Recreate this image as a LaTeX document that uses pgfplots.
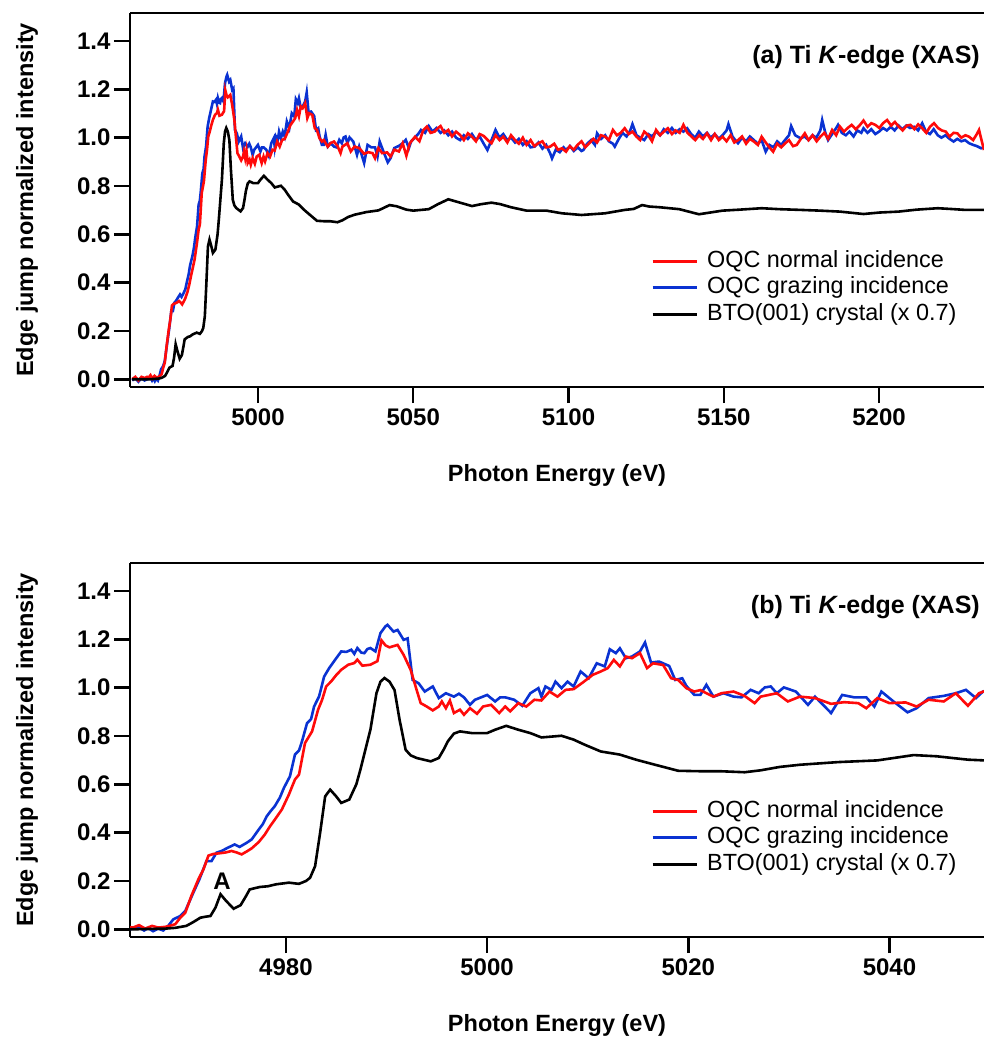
\documentclass[border=0pt]{standalone}
\usepackage{fontspec}
\setmainfont{Liberation Sans}
\usepackage{pgfplots}
\usepackage{pgfplotstable}
\pgfplotsset{compat=1.18}
\definecolor{oqcred}{RGB}{255,10,10}
\definecolor{oqcblue}{RGB}{10,50,210}

\pgfplotstableread{
E v
4959.5 0.000
4960.5 0.010
4961.5 -0.005
4962.5 0.010
4963.5 0.005
4964.3 0.010
4964.8 0.007
4965.4 0.017
4966.0 0.003
4966.7 0.014
4967.3 0.007
4968.0 0.010
4968.5 0.015
4969.0 0.021
4969.5 0.048
4970.0 0.069
4970.6 0.138
4971.3 0.207
4971.8 0.248
4972.3 0.305
4972.8 0.312
4973.3 0.314
4974.0 0.318
4974.6 0.324
4975.1 0.318
4975.6 0.310
4976.1 0.322
4976.6 0.335
4977.3 0.361
4977.9 0.392
4978.4 0.425
4978.9 0.454
4979.6 0.496
4980.3 0.558
4980.9 0.620
4981.3 0.640
4981.9 0.771
4982.6 0.819
4983.2 0.909
4983.6 0.950
4984.0 1.005
4984.5 1.026
4985.0 1.052
4985.5 1.074
4986.2 1.095
4986.8 1.102
4987.1 1.116
4987.6 1.091
4988.0 1.093
4988.4 1.095
4989.1 1.110
4989.5 1.196
4989.9 1.175
4990.3 1.167
4991.1 1.177
4991.7 1.136
4992.4 1.074
4993.0 0.990
4993.4 0.936
4994.0 0.922
4994.6 0.906
4995.2 0.922
4995.5 0.943
4995.9 0.915
4996.3 0.947
4996.7 0.895
4997.3 0.909
4997.7 0.888
4998.3 0.915
4999.0 0.892
4999.6 0.922
5000.4 0.929
5001.2 0.895
5001.8 0.922
5002.3 0.902
5003.1 0.936
5003.9 0.922
5004.7 0.950
5005.4 0.947
5006.2 0.984
5007.0 0.963
5007.8 0.991
5008.6 0.994
5009.5 1.021
5010.5 1.053
5011.3 1.067
5012.0 1.081
5012.6 1.115
5013.2 1.088
5013.8 1.129
5014.4 1.122
5015.2 1.143
5015.9 1.081
5016.5 1.101
5017.5 1.094
5018.3 1.039
5019.0 1.032
5019.8 0.998
5020.6 0.984
5021.2 0.990
5021.8 0.977
5022.5 0.963
5023.3 0.977
5024.5 0.984
5025.6 0.966
5026.6 0.936
5027.2 0.963
5028.0 0.970
5028.8 0.977
5029.9 0.943
5031.1 0.963
5032.6 0.957
5034.2 0.933
5035.5 0.940
5036.9 0.936
5037.7 0.915
5038.8 0.957
5040.0 0.936
5041.6 0.939
5042.7 0.922
5043.9 0.950
5045.4 0.943
5046.6 0.977
5047.8 0.925
5048.9 0.977
5050.6 1.004
5052.0 0.985
5053.2 1.030
5054.4 1.046
5055.6 1.020
5056.9 1.025
5058.0 1.040
5058.8 1.048
5060.0 1.020
5061.3 1.032
5062.5 1.005
5063.8 1.025
5065.1 1.011
5066.3 0.990
5067.6 1.018
5068.9 1.004
5070.2 0.985
5071.4 1.015
5072.7 1.007
5074.0 0.990
5075.2 0.977
5076.5 1.010
5077.8 0.990
5079.0 1.004
5080.3 0.980
5081.5 1.010
5082.8 0.990
5084.0 0.975
5085.3 1.000
5086.5 0.970
5087.8 0.990
5089.0 0.965
5090.3 0.977
5091.6 0.985
5092.8 0.960
5094.1 0.963
5095.4 0.975
5096.6 0.950
5097.9 0.956
5099.2 0.942
5100.4 0.965
5101.7 0.950
5102.9 0.970
5104.2 0.985
5105.4 0.960
5106.7 0.977
5108.0 0.995
5109.2 0.980
5110.5 1.010
5111.8 1.004
5113.0 0.990
5114.3 1.032
5115.6 1.010
5116.8 1.020
5118.1 1.039
5119.4 1.015
5120.6 1.025
5121.9 1.004
5123.1 0.990
5124.4 1.025
5125.7 1.010
5126.9 0.985
5128.2 1.032
5129.5 1.010
5130.7 1.025
5132.0 1.039
5133.3 1.015
5134.5 1.030
5135.8 1.020
5137.0 1.053
5138.3 1.020
5139.6 1.005
5140.8 0.990
5142.1 1.010
5143.3 0.995
5144.6 1.018
5145.9 0.990
5147.1 1.015
5148.4 0.990
5149.6 1.004
5150.9 0.985
5152.2 1.010
5153.4 0.980
5154.6 0.990
5155.9 1.005
5157.2 0.975
5158.4 0.995
5159.7 0.984
5161.0 0.970
5162.2 1.004
5163.5 0.980
5164.7 0.960
5165.9 0.942
5167.2 0.975
5168.5 0.960
5169.8 0.977
5171.0 0.990
5172.3 0.965
5173.5 0.970
5174.8 0.995
5176.1 1.018
5177.3 0.990
5178.6 1.010
5179.9 0.985
5181.1 1.004
5182.4 1.020
5183.6 0.995
5184.9 1.032
5186.2 1.010
5187.4 1.046
5188.7 1.025
5189.9 1.040
5191.2 1.053
5192.5 1.035
5193.7 1.050
5195.0 1.071
5196.3 1.045
5197.5 1.060
5198.8 1.053
5200.1 1.040
5201.3 1.060
5202.6 1.073
5203.9 1.050
5205.1 1.065
5206.3 1.046
5207.6 1.030
5208.9 1.050
5210.1 1.053
5211.4 1.035
5212.6 1.055
5213.9 1.039
5215.2 1.020
5216.4 1.045
5217.7 1.060
5219.0 1.040
5220.2 1.030
5221.5 1.025
5222.7 1.004
5224.0 1.020
5225.2 1.018
5226.5 1.000
5227.8 1.010
5229.0 1.004
5230.3 0.990
5231.5 1.015
5232.2 1.032
5233.0 0.990
5233.8 0.949
}\redtab

\pgfplotstableread{
E v
4959.5 -0.005
4960.5 0.005
4961.5 -0.010
4962.5 0.005
4963.5 -0.005
4964.3 0.000
4964.8 0.002
4965.3 0.010
4965.9 -0.005
4966.3 0.005
4966.8 -0.008
4967.3 0.003
4967.8 -0.005
4968.3 0.014
4968.8 0.041
4969.5 0.055
4970.0 0.076
4970.8 0.152
4971.4 0.207
4972.1 0.282
4972.6 0.282
4973.1 0.317
4973.6 0.324
4974.2 0.337
4974.9 0.351
4975.4 0.341
4976.1 0.358
4976.6 0.372
4977.3 0.413
4977.7 0.435
4978.1 0.468
4978.5 0.490
4978.9 0.510
4979.4 0.545
4979.8 0.585
4980.4 0.633
4980.9 0.723
4981.3 0.740
4981.6 0.778
4982.1 0.853
4982.5 0.870
4982.8 0.922
4983.3 0.964
4983.8 1.046
4984.3 1.081
4984.9 1.116
4985.5 1.150
4986.0 1.148
4986.5 1.157
4986.8 1.140
4987.1 1.164
4987.5 1.145
4987.8 1.143
4988.1 1.160
4988.4 1.164
4988.9 1.150
4989.4 1.226
4989.9 1.254
4990.1 1.260
4990.7 1.232
4991.1 1.239
4991.7 1.198
4992.1 1.204
4992.6 1.032
4993.2 1.018
4993.8 0.984
4994.6 1.005
4995.2 0.957
4995.9 0.977
4996.7 0.963
4997.2 0.975
4997.7 0.960
4998.3 0.929
4998.8 0.950
4999.4 0.960
5000.0 0.970
5000.8 0.943
5001.3 0.960
5001.8 0.960
5002.7 0.950
5003.5 0.925
5004.3 0.977
5005.1 0.998
5005.4 0.963
5005.8 1.005
5006.4 0.991
5006.8 1.025
5007.4 0.998
5008.0 1.025
5008.6 1.005
5009.3 1.067
5010.1 1.039
5010.9 1.101
5011.7 1.088
5012.2 1.159
5012.8 1.143
5013.2 1.163
5013.8 1.122
5014.4 1.129
5015.2 1.150
5015.7 1.187
5016.3 1.104
5017.1 1.108
5018.1 1.090
5018.7 1.032
5019.4 1.039
5019.8 1.008
5020.6 0.970
5021.2 0.970
5021.8 1.012
5022.5 0.963
5023.5 0.977
5024.5 0.963
5025.3 0.960
5026.2 0.991
5027.0 0.977
5027.6 1.001
5028.2 1.005
5028.8 0.977
5029.5 1.001
5030.7 0.984
5031.9 0.929
5032.6 0.963
5034.2 0.895
5035.3 0.970
5036.5 0.960
5037.7 0.960
5038.5 0.922
5039.2 0.984
5040.4 0.943
5041.8 0.898
5042.7 0.915
5043.9 0.957
5045.4 0.966
5046.6 0.977
5047.6 0.991
5048.6 0.957
5049.3 0.984
5050.5 1.000
5051.6 1.015
5052.5 1.032
5053.8 1.020
5055.0 1.048
5056.2 1.025
5057.5 1.040
5058.8 1.020
5060.0 1.030
5061.3 1.010
5062.5 1.025
5063.8 1.000
5065.1 0.990
5066.3 1.010
5067.6 0.995
5068.9 1.015
5070.2 0.990
5071.4 1.005
5072.7 0.975
5073.9 0.949
5075.2 0.990
5076.5 1.032
5077.8 1.000
5079.0 1.015
5080.3 0.990
5081.5 1.000
5082.8 0.980
5084.0 0.995
5085.3 0.970
5086.5 0.985
5087.8 0.960
5089.1 0.963
5090.3 0.980
5091.6 0.955
5092.8 0.970
5094.1 0.935
5094.7 0.914
5095.9 0.950
5097.2 0.940
5098.4 0.960
5099.2 0.949
5100.5 0.965
5101.7 0.945
5103.0 0.960
5104.2 0.945
5104.8 0.949
5106.0 0.975
5107.3 0.990
5108.5 0.970
5109.2 1.018
5110.5 0.995
5111.8 1.010
5113.0 0.985
5114.3 0.975
5114.9 0.963
5116.2 0.995
5117.4 1.020
5118.7 1.005
5119.9 1.030
5120.6 1.056
5121.9 1.010
5123.1 1.000
5124.4 0.990
5125.7 1.015
5126.9 1.005
5128.2 1.025
5129.5 1.010
5130.7 1.035
5132.0 1.020
5133.3 1.040
5134.5 1.020
5135.8 1.035
5137.0 1.025
5138.2 1.039
5139.5 1.015
5140.8 1.000
5142.0 1.025
5143.3 1.005
5144.6 1.020
5145.8 1.000
5147.1 1.015
5148.4 0.995
5149.6 1.010
5150.9 1.030
5151.5 1.056
5152.8 1.005
5154.0 0.985
5154.6 0.977
5155.9 1.000
5157.2 0.985
5158.4 1.005
5159.7 0.990
5161.0 0.975
5162.2 0.990
5163.5 0.942
5164.7 0.970
5166.0 0.960
5167.2 0.985
5168.5 0.970
5169.7 0.990
5171.0 1.010
5171.7 1.048
5173.0 1.010
5174.8 0.997
5176.0 1.005
5177.3 0.990
5178.6 1.010
5179.8 1.000
5181.1 1.030
5181.7 1.073
5182.7 1.020
5183.6 0.990
5184.9 1.015
5186.2 1.040
5186.8 1.053
5188.0 1.020
5189.3 1.010
5190.5 1.025
5191.8 1.005
5193.0 1.030
5194.3 1.020
5195.0 1.039
5196.3 1.020
5197.5 1.035
5198.8 1.015
5200.0 1.025
5201.3 1.040
5202.5 1.030
5203.8 1.045
5205.0 1.030
5206.3 1.050
5207.5 1.035
5208.8 1.050
5210.0 1.040
5211.3 1.045
5212.6 1.030
5213.9 1.060
5215.1 1.025
5216.4 1.015
5217.6 1.035
5218.9 1.010
5220.1 1.000
5221.4 1.010
5222.7 0.995
5224.0 0.984
5225.2 0.995
5226.5 0.985
5227.7 0.990
5229.0 0.977
5230.3 0.970
5231.5 0.965
5232.9 0.956
5233.8 0.960
}\bluetab

\pgfplotstableread{
E v
4959.5 0.000
4962.0 0.000
4965.0 0.000
4968.1 0.003
4969.0 0.006
4970.1 0.014
4970.8 0.030
4971.5 0.048
4972.0 0.052
4972.5 0.055
4973.0 0.090
4973.5 0.145
4974.0 0.120
4974.8 0.085
4975.5 0.100
4976.0 0.135
4976.4 0.165
4977.4 0.175
4978.2 0.178
4979.0 0.186
4980.3 0.193
4981.3 0.188
4982.0 0.200
4982.4 0.213
4982.9 0.261
4983.4 0.399
4983.9 0.550
4984.4 0.578
4985.0 0.550
4985.5 0.523
4986.3 0.537
4987.0 0.600
4987.4 0.660
4988.0 0.760
4988.4 0.826
4989.0 0.977
4989.4 1.025
4989.8 1.040
4990.3 1.025
4990.8 0.990
4991.3 0.867
4991.9 0.743
4992.4 0.720
4993.0 0.709
4994.4 0.695
4995.2 0.709
4995.7 0.745
4996.1 0.778
4996.7 0.810
4997.3 0.819
4998.5 0.812
5000.0 0.812
5000.8 0.826
5001.9 0.842
5003.1 0.826
5004.3 0.812
5005.4 0.794
5007.4 0.801
5008.6 0.785
5009.7 0.764
5011.3 0.736
5013.2 0.723
5014.8 0.702
5016.7 0.681
5019.0 0.656
5021.4 0.654
5023.3 0.654
5025.6 0.650
5027.2 0.658
5029.1 0.672
5031.1 0.681
5034.9 0.692
5038.8 0.699
5042.4 0.721
5044.7 0.716
5047.8 0.702
5050.0 0.698
5055.0 0.704
5058.0 0.725
5061.3 0.745
5064.0 0.735
5068.9 0.717
5072.0 0.725
5075.2 0.731
5078.0 0.725
5081.5 0.712
5086.5 0.698
5092.9 0.698
5097.9 0.687
5104.2 0.680
5111.8 0.687
5118.1 0.701
5121.0 0.705
5123.7 0.721
5126.0 0.715
5129.4 0.712
5135.7 0.704
5142.0 0.683
5149.6 0.698
5155.0 0.702
5162.2 0.708
5168.0 0.704
5174.8 0.701
5181.0 0.698
5187.4 0.694
5195.0 0.684
5200.0 0.690
5206.3 0.694
5212.0 0.702
5218.9 0.708
5223.0 0.705
5227.8 0.701
5233.8 0.701
}\btotab

\pgfplotsset{
  xasaxis/.style={
    scale only axis, width=854pt, height=374pt,
    ymin=-0.032, ymax=1.516,
    axis x line*=box, axis y line*=left,
    axis line style={line width=2.5pt, black},
    tick align=outside, major tick length=16pt,
    every tick/.style={line width=2.5pt, black},
    xtick pos=left, ytick pos=left,
    ytick={0,0.2,0.4,0.6,0.8,1.0,1.2,1.4},
    y tick label style={/pgf/number format/fixed, /pgf/number format/fixed zerofill, /pgf/number format/precision=1},
    x tick label style={/pgf/number format/1000 sep={}, yshift=-2pt},
    tick label style={font=\fontsize{24}{24}\selectfont\bfseries},
    /pgf/number format/assume math mode=true,
    every axis x label/.style={at={(rel axis cs:0.5,-0.236)}, anchor=center, font=\fontsize{23.5}{24}\selectfont\bfseries},
    every axis y label/.style={at={(rel axis cs:-0.1206,0.5)}, rotate=90, anchor=center, font=\fontsize{23.5}{24}\selectfont\bfseries},
    xlabel={Photon Energy (eV)},
    ylabel={Edge jump normalized intensity},
    legend cell align=left,
    legend style={draw=none, fill=none, anchor=north west, inner sep=0pt, font=\fontsize{23.4}{24}\selectfont,
      row sep=0pt, nodes={inner sep=2pt, text height=17pt, text depth=5.5pt},
      /tikz/every odd column/.append style={column sep=7pt}},
    legend image code/.code={\draw[##1, line width=3pt] (0pt,0pt) -- (44pt,0pt);},
  }
}

\begin{document}
\begin{tikzpicture}
\useasboundingbox (0,0) rectangle (984pt,-1037pt);
\begin{axis}[xasaxis, at={(130pt,-13pt)}, anchor=north west,
  xmin=4958.8, xmax=5233.8, xtick={5000,5050,5100,5150,5200},
  legend style={at={(rel axis cs:0.610,0.372)}}]
\addlegendimage{oqcred}\addlegendentry{OQC normal incidence}
\addlegendimage{oqcblue}\addlegendentry{OQC grazing incidence}
\addlegendimage{black}\addlegendentry{BTO(001) crystal (x 0.7)}
\addplot[oqcblue, line width=2.6pt, forget plot] table[x=E,y=v] {\bluetab};
\addplot[oqcred, line width=2.6pt, forget plot] table[x=E,y=v] {\redtab};
\addplot[black, line width=2.6pt, forget plot] table[x=E,y=v] {\btotab};
\node[anchor=east, inner sep=4pt, font=\fontsize{25}{25}\selectfont\bfseries] at (rel axis cs:1,0.882) {(a) Ti \textit{K}-edge (XAS)};
\end{axis}
\begin{axis}[xasaxis, at={(130pt,-563pt)}, anchor=north west,
  xmin=4964.5, xmax=5049.4, xtick={4980,5000,5020,5040},
  legend style={at={(rel axis cs:0.610,0.372)}}]
\addlegendimage{oqcred}\addlegendentry{OQC normal incidence}
\addlegendimage{oqcblue}\addlegendentry{OQC grazing incidence}
\addlegendimage{black}\addlegendentry{BTO(001) crystal (x 0.7)}
\addplot[oqcblue, line width=2.6pt, forget plot] table[x=E,y=v] {\bluetab};
\addplot[oqcred, line width=2.6pt, forget plot] table[x=E,y=v] {\redtab};
\addplot[black, line width=2.6pt, forget plot] table[x=E,y=v] {\btotab};
\node[anchor=east, inner sep=4pt, font=\fontsize{25}{25}\selectfont\bfseries] at (rel axis cs:1,0.882) {(b) Ti \textit{K}-edge (XAS)};
\node[font=\fontsize{24}{24}\selectfont\bfseries] at (axis cs:4973.65,0.198) {A};
\end{axis}
\end{tikzpicture}
\end{document}
